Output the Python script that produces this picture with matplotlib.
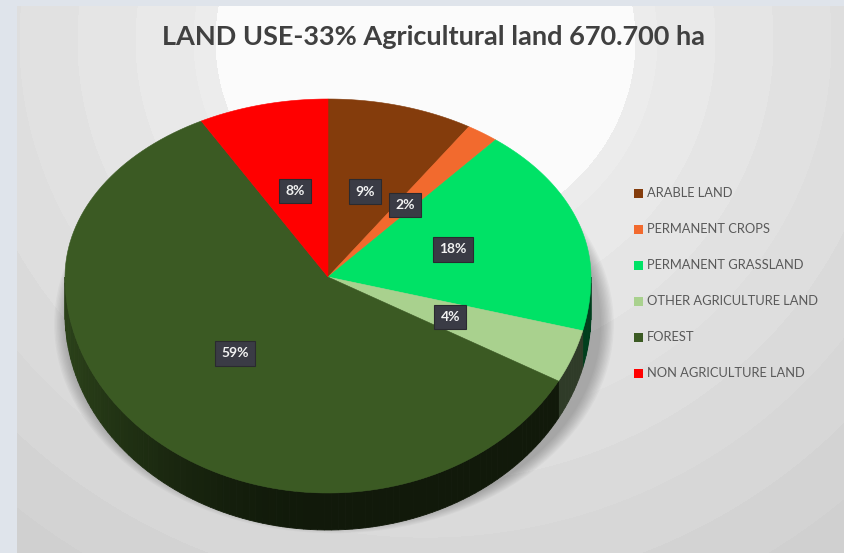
import numpy as np
import matplotlib.pyplot as plt
from matplotlib.patches import Polygon, Rectangle, Ellipse

W, H = 844, 553

categories = ["ARABLE LAND", "PERMANENT CROPS", "PERMANENT GRASSLAND",
              "OTHER AGRICULTURE LAND", "FOREST", "NON AGRICULTURE LAND"]
shares = [9, 2, 18, 4, 59, 8]
pct_labels = ["9%", "2%", "18%", "4%", "59%", "8%"]
colors = ["#843c0c", "#f26a2e", "#00e266", "#a9d18e", "#3b5a23", "#ff0000"]
title = "LAND USE-33% Agricultural land 670.700 ha"

# pie geometry in pixels (3D look: tilted disc, near half is taller)
CX, CY = 328, 277
RX, RY_TOP, RY_BOT = 263, 178, 216
DEPTH = 37

plt.rcParams['font.family'] = ['Lato', 'DejaVu Sans']


def edge(t):
    t = np.asarray(t, dtype=float)
    ry = np.where(np.sin(t) > 0, RY_TOP, RY_BOT)
    return CX + RX * np.cos(t), CY - ry * np.sin(t)


def shade(c, f):
    r, g, b = plt.matplotlib.colors.to_rgb(c)
    return (r * f, g * f, b * f)


fig = plt.figure(figsize=(W / 100, H / 100), dpi=100)
fig.patch.set_facecolor("#dfe4eb")
ax = fig.add_axes([0, 0, 1, 1])
ax.set_xlim(0, W)
ax.set_ylim(H, 0)
ax.axis("off")

# ── background: stepped radial rings with a bright core ──
yy, xx = np.mgrid[0:H - 6, 0:W - 17]
d = np.hypot(xx + 17 - 425, (yy + 6 - 40) * 1.05)
g = 0.97 - 0.014 * np.floor(d / 58)
g = np.where(d < 210, 0.985, g)
g = np.clip(g, 0.77, 1.0)
ax.imshow(np.dstack([g, g, g]), extent=[17, W, H, 6], zorder=0, interpolation="bilinear")

# ── soft shadow under the pie ──
for k in range(10):
    grow = 24 - k * 2
    ax.add_patch(Ellipse((CX + 6, CY + (RY_BOT - RY_TOP) / 2 + DEPTH * 0.6 + 6),
                         2 * RX + grow * 1.4, RY_TOP + RY_BOT + grow,
                         fc="#404040", ec="none", alpha=0.04, zorder=1))

# ── pie ──
fr = np.array(shares, dtype=float) / sum(shares)
cum = np.concatenate([[0], np.cumsum(fr)])
t_start = np.radians(90 - 360 * cum[:-1])
t_end = np.radians(90 - 360 * cum[1:])

# side wall (front half only)
for i in range(len(shares)):
    lo, hi = max(t_end[i], -np.pi), min(t_start[i], 0.0)
    if lo >= hi:
        continue
    ts = np.linspace(lo, hi, max(2, int(np.degrees(hi - lo) / 1.5) + 1))
    for t1, t2 in zip(ts[:-1], ts[1:]):
        x1, y1 = edge(t1)
        x2, y2 = edge(t2)
        tm = (t1 + t2) / 2
        f = 0.28 + 0.45 * max(0.0, -np.cos(tm)) ** 2
        col = shade(colors[i], f)
        ax.add_patch(Polygon([(x1, y1), (x2, y2), (x2, y2 + DEPTH), (x1, y1 + DEPTH)],
                             closed=True, fc=col, ec=col, lw=0.6, zorder=2))

# top faces
for i in range(len(shares)):
    ts = np.linspace(t_start[i], t_end[i], 120)
    xs, ys = edge(ts)
    pts = [(CX, CY)] + list(zip(xs, ys))
    ax.add_patch(Polygon(pts, closed=True, fc=colors[i], ec=colors[i], lw=0.4, zorder=3))

# data labels
for i in range(len(shares)):
    tm = (t_start[i] + t_end[i]) / 2
    ry = RY_TOP if np.sin(tm) > 0 else RY_BOT
    lx = CX + 0.5 * RX * np.cos(tm)
    ly = CY - 0.5 * ry * np.sin(tm)
    ax.text(lx, ly, pct_labels[i], ha="center", va="center", fontsize=10,
            fontweight="bold", color="#f2f2f2", zorder=5,
            bbox=dict(boxstyle="square,pad=0.45", fc="#3a3b45", ec="#2a2a30", lw=0.8))

# ── title ──
ax.text(434, 37, title, ha="center", va="center", fontsize=19.5,
        fontweight="bold", color="#404040", zorder=6)

# ── legend ──
for i, name in enumerate(categories):
    y = 193 + 36 * i
    ax.add_patch(Rectangle((634, y - 4.5), 9, 9, fc=colors[i], ec="none", zorder=6))
    ax.text(647, y, name, ha="left", va="center", fontsize=9.3, color="#595959", zorder=6)

fig.savefig("out.png", dpi=100)
